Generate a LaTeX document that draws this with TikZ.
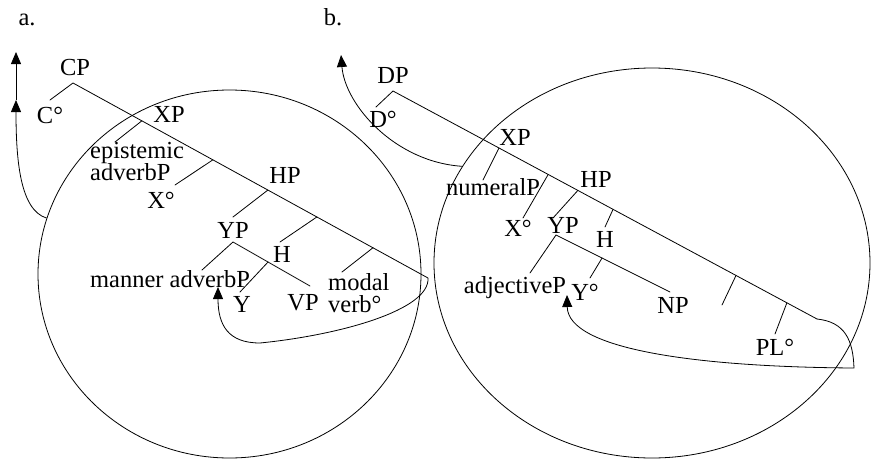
\documentclass[tikz,border=0pt]{standalone}
\usepackage{fontspec}
\setmainfont{Liberation Serif}
\usepackage{tikz}
\usetikzlibrary{
  arrows.meta,
  calc,
  shapes.geometric
}
\setlength{\lineskiplimit}{-10pt}
\tikzset{
  >={Triangle[length=12pt,width=10pt]},
  tree label/.style={font=\fontsize{24.5}{22}\selectfont,inner sep=0pt,anchor=base},
  stacked label/.style={tree label,align=left,anchor=base west},
  branch/.style={line width=.8pt,line cap=round},
  movement/.style={->,line width=.8pt},
  phase/.style={ellipse,draw,line width=.8pt,inner sep=0pt}
}

\begin{document}
\begin{tikzpicture}[x=1pt,y=-1pt]
  \useasboundingbox (0,0) rectangle (871,461);

  \node[tree label] (mark a) at (27,25) {a.};
  \node[tree label] (mark b) at (333,25) {b.};

  % a. clausal phase
  \node[phase,minimum width=383pt,minimum height=368pt] (clause phase) at (229.5,274) {};

  \coordinate (cp top) at (73,83);
  \coordinate (cp end) at (428,278);
  \coordinate (c head) at (50,100);
  \coordinate (xp fork) at ($(cp top)!.194!(cp end)$);
  \coordinate (xp spec) at (115,142);
  \coordinate (x fork) at ($(cp top)!.394!(cp end)$);
  \coordinate (x head) at (175,185);
  \coordinate (hp fork) at ($(cp top)!.549!(cp end)$);
  \coordinate (hp comp) at (233,217);
  \coordinate (h fork) at ($(cp top)!.687!(cp end)$);
  \coordinate (h comp) at (280,242);
  \coordinate (modal fork) at ($(cp top)!.845!(cp end)$);
  \coordinate (modal head) at (342,272);
  \coordinate (yp top) at (233,242);
  \coordinate (yp spec) at (202,270);
  \coordinate (yp end) at (310,286);
  \coordinate (y fork) at ($(yp top)!.455!(yp end)$);
  \coordinate (y head) at (240,292);

  \node[tree label] (cp) at (75,75) {CP};
  \node[tree label] (c) at (50,123) {C°};
  \node[tree label] (xp) at (169,122) {XP};
  \node[stacked label] (epistemic) at (90,180) {epistemic\\adverbP};
  \node[tree label] (x) at (161,208) {X°};
  \node[tree label] (hp) at (285,183) {HP};
  \node[tree label] (yp) at (233,238) {YP};
  \node[tree label] (h) at (282,262) {H};
  \node[tree label] (manner) at (170,287) {manner adverbP};
  \node[tree label] (y) at (242,312) {Y};
  \node[tree label] (vp) at (303,310) {VP};
  \node[stacked label] (modal) at (328,312) {modal\\verb°};

  \draw[branch] (c head) -- (cp top) -- (cp end);
  \draw[branch] (xp fork) -- (xp spec);
  \draw[branch] (x fork) -- (x head);
  \draw[branch] (hp fork) -- (hp comp);
  \draw[branch] (h fork) -- (h comp);
  \draw[branch] (modal fork) -- (modal head);
  \draw[branch] (yp spec) -- (yp top) -- (yp end);
  \draw[branch] (y fork) -- (y head);

  \coordinate (c landing) at (16,100);
  \coordinate (c exit) at (16,52);
  \coordinate (manner landing) at (218,287);

  \draw[movement] (cp end) .. controls (430,310) and (340,335) .. (260,343)
    .. controls (228,343) and (218,325) .. (manner landing);
  \draw[movement] (clause phase.163) .. controls (20,210) and (16,160) .. (c landing);
  \draw[movement] (c landing) -- (c exit);

  % b. nominal phase
  \node[phase,minimum width=436pt,minimum height=390pt] (noun phase) at (652,263) {};

  \coordinate (dp top) at (393,91);
  \coordinate (dp end) at (817,319);
  \coordinate (d head) at (376,107);
  \coordinate (nxp fork) at ($(dp top)!.25!(dp end)$);
  \coordinate (nxp spec) at (483,180);
  \coordinate (nx fork) at ($(dp top)!.366!(dp end)$);
  \coordinate (nx head) at (523,218);
  \coordinate (nhp fork) at ($(dp top)!.436!(dp end)$);
  \coordinate (nhp comp) at (553,218);
  \coordinate (nh fork) at ($(dp top)!.519!(dp end)$);
  \coordinate (nh head) at (605,227);
  \coordinate (np fork) at ($(dp top)!.809!(dp end)$);
  \coordinate (np head) at (722,305);
  \coordinate (pl fork) at ($(dp top)!.929!(dp end)$);
  \coordinate (pl head) at (775,334);
  \coordinate (nyp top) at (556,235);
  \coordinate (nyp spec) at (530,273);
  \coordinate (nyp end) at (670,292);
  \coordinate (ny fork) at ($(nyp top)!.404!(nyp end)$);
  \coordinate (ny head) at (590,278);

  \node[tree label] (dp) at (393,83) {DP};
  \node[tree label] (d) at (383,127) {D°};
  \node[tree label] (nxp) at (515,145) {XP};
  \node[tree label] (numeral) at (493,195) {numeralP};
  \node[tree label] (nx) at (518,236) {X°};
  \node[tree label] (nhp) at (596,187) {HP};
  \node[tree label] (nyp) at (563,233) {YP};
  \node[tree label] (nh) at (605,247) {H};
  \node[tree label] (adjective) at (515,293) {adjectiveP};
  \node[tree label] (ny) at (585,300) {Y°};
  \node[tree label] (np) at (673,313) {NP};
  \node[tree label] (pl) at (775,355) {PL°};

  \draw[branch] (d head) -- (dp top) -- (dp end);
  \draw[branch] (nxp fork) -- (nxp spec);
  \draw[branch] (nx fork) -- (nx head);
  \draw[branch] (nhp fork) -- (nhp comp);
  \draw[branch] (nh fork) -- (nh head);
  \draw[branch] (np fork) -- (np head);
  \draw[branch] (pl fork) -- (pl head);
  \draw[branch] (nyp spec) -- (nyp top) -- (nyp end);
  \draw[branch] (ny fork) -- (ny head);

  \coordinate (d exit) at (341,55);
  \coordinate (adjective landing) at (567,295);

  \draw[movement] (dp end) .. controls (845,322) and (853,340) .. (854,368)
    .. controls (700,367) and (568,350) .. (adjective landing);
  \draw[movement] (noun phase.153) .. controls (395,162) and (345,105) .. (d exit);
\end{tikzpicture}
\end{document}
